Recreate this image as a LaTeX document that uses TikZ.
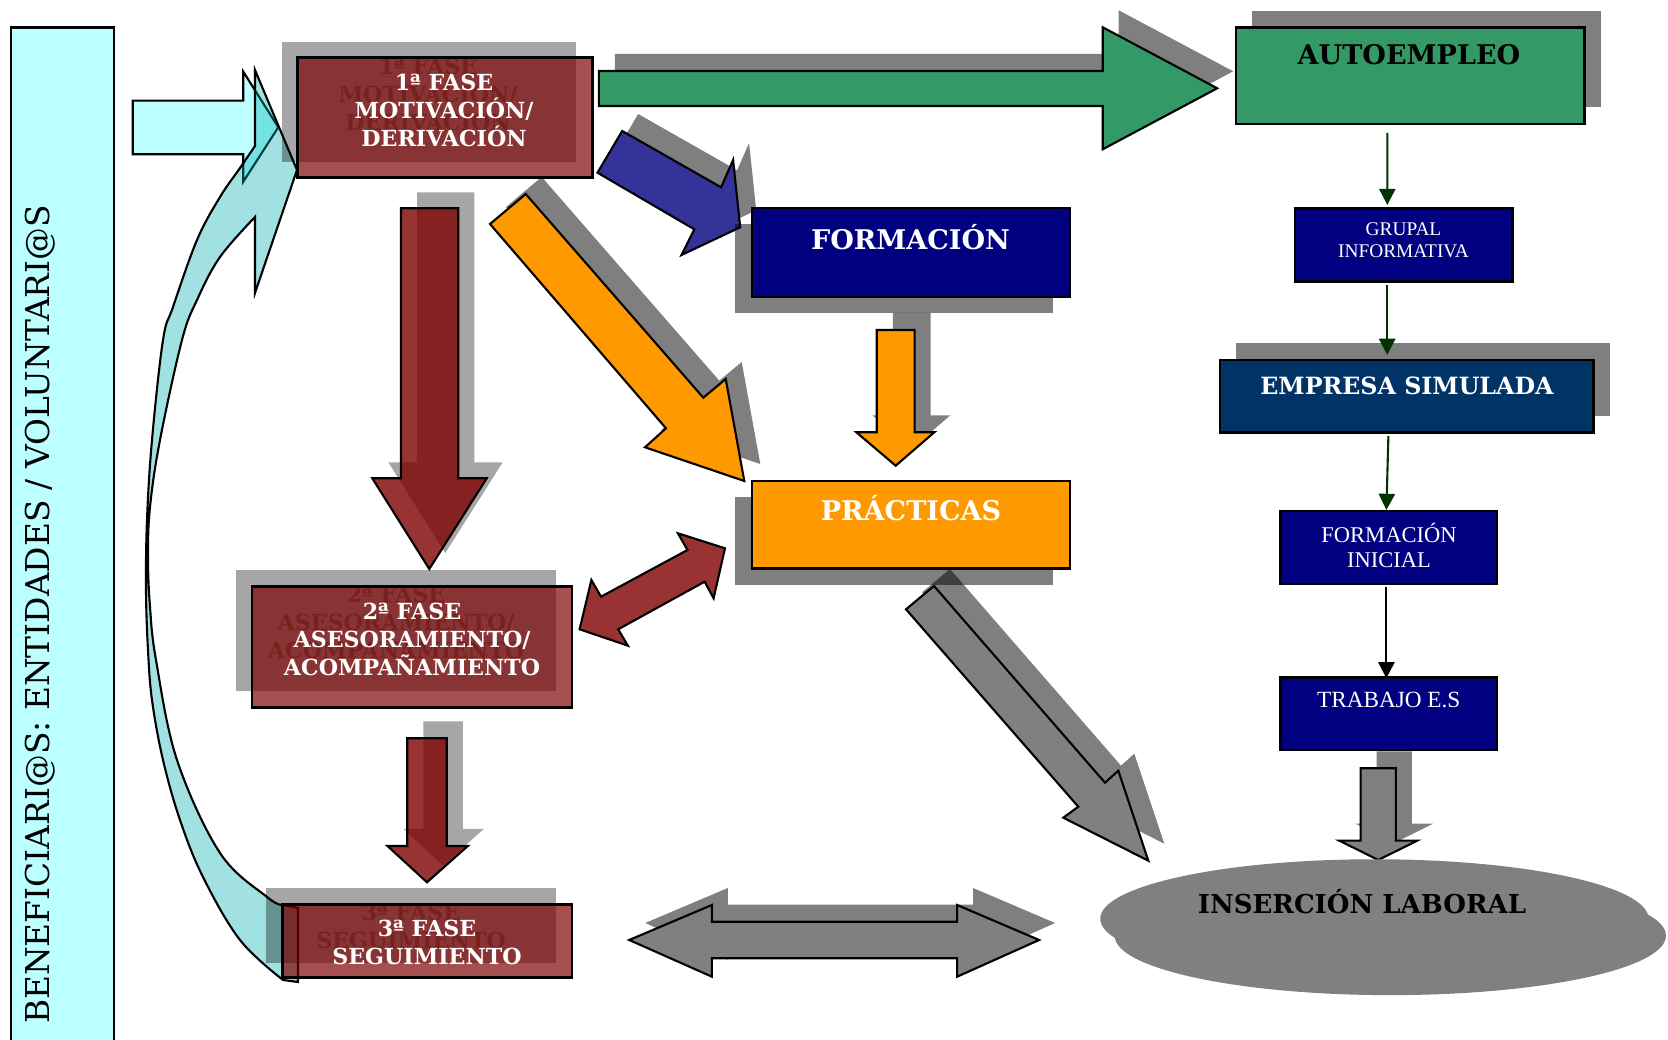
\documentclass[tikz,border=0pt]{standalone}
\usepackage{fontspec}
\newfontfamily\dvs{DejaVu Serif}
\newfontfamily\lbs{Liberation Serif}
\usetikzlibrary{arrows.meta,shapes.geometric}
\definecolor{cyanbox}{HTML}{BBFFFF}
\definecolor{curvc}{HTML}{00B0B0}
\definecolor{redc}{HTML}{7D0000}
\definecolor{greenc}{HTML}{339966}
\definecolor{bluec}{HTML}{333399}
\definecolor{navyc}{HTML}{000080}
\definecolor{empc}{HTML}{003366}
\definecolor{orangec}{HTML}{FF9900}
\definecolor{grayc}{HTML}{808080}
\definecolor{dred}{HTML}{993333}
\definecolor{dgreen}{HTML}{003300}
\newcommand\fsz[2]{\fontsize{#1}{#2}\selectfont}
\newcommand\BlkArr[3]{\fill[#2] #3; \filldraw[#1] #3;}
\tikzset{
  blk/.style={draw=black, line width=0.6pt, line join=miter},
  shd/.style={fill=black, fill opacity=0.5, draw=none},
  shdr/.style={fill=black, fill opacity=0.35, draw=none},
  bx/.style={draw=black, line width=0.7pt, inner sep=0pt, outer sep=0pt},
  sbx/.style={inner sep=0pt, outer sep=0pt},
  redbox/.style={bx, fill=redc, fill opacity=0.685},
  rlbl/.style={inner sep=0pt, align=center, text=white, font=\dvs\bfseries\fsz{6.3pt}{7.97pt}},
  rslbl/.style={inner sep=0pt, align=center, text=black, text opacity=0.35, font=\dvs\bfseries\fsz{6.3pt}{7.97pt}},
  blbl/.style={inner sep=0pt, align=center, font=\dvs\bfseries\fsz{7.7pt}{9pt}},
  slbl/.style 2 args={inner sep=0pt, align=center, text=white, font=\lbs\fsz{#1}{#2}},
  tarr/.style={draw=#1, line width=0.6pt, -{Triangle[length=4.6pt,width=4.6pt]}},
}
\begin{document}
\begin{tikzpicture}[x=0.01cm, y=-0.01cm]
\clip (0,0) rectangle (1668,1040);
\fill[white] (0,0) rectangle (1668,1040);

% left vertical box
\node[bx, fill=cyanbox, minimum width=1.03cm, minimum height=10.32cm] (benef) at (62.5,544) {};
\node[rotate=90, inner sep=0pt, font=\dvs\fsz{9.34pt}{12pt}] (benefT) at (40,614.5) {BENEFICIARI@S: ENTIDADES / VOLUNTARI@S};

% straight cyan arrow
\filldraw[blk, fill=cyanbox] (132.7,100.7) -- (243.3,100.7) -- (243.3,71.7) -- (278.3,127.3) -- (243.3,181.7) -- (243.3,154.3) -- (132.7,154.3) -- cycle;

% curved return arrow
\filldraw[blk, fill=curvc, fill opacity=0.37] (298,982) -- plot[smooth, tension=0.6] coordinates {(283,980) (240,940) (203,877) (180,820) (163,760) (152,700) (148,650) (146,590) (147,520) (152,440) (163,340) (173,307) (197,240) (220,197) (240,168) (255,146)} -- (255,70) -- (297,170) -- (255,293) -- (255,217) -- plot[smooth, tension=0.6] coordinates {(255,217) (220,257) (197,300) (182,340) (160,440) (150,507) (148,557) (150,607) (156,660) (177,760) (220,853) (267,897) (282,905)} -- (298,908) -- cycle;

% red phase boxes: shadows
\node[sbx, shdr, minimum width=2.946cm, minimum height=1.2cm] (f1s) at (429,101.7) {};
\node[rslbl] (f1st) at (428,94) {1ª FASE\\MOTIVACIÓN/\\DERIVACIÓN};
\node[sbx, shdr, minimum width=3.195cm, minimum height=1.21cm] (f2s) at (396,630.5) {};
\node[rslbl] (f2st) at (396,622.5) {2ª FASE\\ASESORAMIENTO/\\ACOMPAÑAMIENTO};
\node[sbx, shdr, minimum width=2.90cm, minimum height=0.75cm] (f3s) at (411.3,925.5) {};
\node[rslbl] (f3st) at (411,926) {3ª FASE\\SEGUIMIENTO};

% red phase boxes
\node[redbox, minimum width=2.946cm, minimum height=1.2cm] (f1) at (445,117.7) {};
\node[rlbl] (f1t) at (444,110) {1ª FASE\\MOTIVACIÓN/\\DERIVACIÓN};
\node[redbox, minimum width=3.195cm, minimum height=1.21cm] (f2) at (412,647.2) {};
\node[rlbl] (f2t) at (412,639) {2ª FASE\\ASESORAMIENTO/\\ACOMPAÑAMIENTO};
\node[redbox, minimum width=2.89cm, minimum height=0.734cm] (f3) at (427.2,941) {};
\node[rlbl] (f3t) at (427,942.5) {3ª FASE\\SEGUIMIENTO};

% red down arrows
\BlkArr{blk, fill=redc, fill opacity=0.8}{shdr, shift={(16,-16)}}{(401,208.3) -- (458.3,208.3) -- (458.3,478.3) -- (486.7,478.3) -- (429.3,569) -- (372.3,478.3) -- (401,478.3) -- cycle}
\BlkArr{blk, fill=redc, fill opacity=0.8}{shdr, shift={(16,-17)}}{(407.3,738.3) -- (446.8,738.3) -- (446.8,846) -- (467.8,846) -- (427,882.3) -- (387.5,846) -- (407.3,846) -- cycle}

% green arrow to AUTOEMPLEO
\BlkArr{blk, fill=greenc}{shd, shift={(16,-17)}}{(598.9,71) -- (1102.7,71) -- (1102.7,27.3) -- (1217.2,88.3) -- (1102.7,149.3) -- (1102.7,106) -- (598.9,106) -- cycle}

% AUTOEMPLEO
\node[sbx, shd, minimum width=3.484cm, minimum height=0.963cm] (autos) at (1426.4,58.8) {};
\node[bx, fill=greenc, minimum width=3.484cm, minimum height=0.963cm] (auto) at (1410.4,75.8) {};
\node[blbl, text=black] (autot) at (1409,55) {AUTOEMPLEO};

% blue arrow to FORMACION
\BlkArr{blk, fill=bluec}{shd, shift={(16,-17)}}{(622.2,131) -- (721.1,187.3) -- (733.1,160) -- (740.2,227.3) -- (681.5,255) -- (694.3,229.3) -- (597.5,172.7) -- cycle}

% FORMACION
\node[sbx, shd, minimum width=3.18cm, minimum height=0.89cm] (forms) at (894,268.5) {};
\node[bx, fill=navyc, minimum width=3.18cm, minimum height=0.89cm] (form) at (911,252.5) {};
\node[blbl, text=white] (formt) at (910.5,236.7) {FORMACIÓN};

% orange diagonal arrow
\BlkArr{blk, fill=orangec}{shd, shift={(16,-17)}}{(525.7,194) -- (703.3,397.7) -- (725.7,379) -- (744.3,481) -- (645,447.3) -- (666,428.3) -- (490,224) -- cycle}
% orange small down arrow
\BlkArr{blk, fill=orangec}{shd, shift={(16,-17)}}{(876.8,330) -- (914.6,330) -- (914.6,432.3) -- (934.3,432.3) -- (895.7,465.7) -- (856.4,432.3) -- (876.8,432.3) -- cycle}

% gray diagonal arrow (under practicas)
\BlkArr{blk, fill=grayc}{shd, shift={(16,-17)}}{(934,586) -- (1105,782.7) -- (1118.3,770.7) -- (1148.3,860.7) -- (1063.3,817.7) -- (1078.3,806.7) -- (906,609.3) -- cycle}

% PRACTICAS
\node[sbx, shd, minimum width=3.18cm, minimum height=0.873cm] (pracs) at (894,541) {};
\node[bx, fill=orangec, minimum width=3.18cm, minimum height=0.873cm] (prac) at (911,524.7) {};
\node[blbl, text=white] (pract) at (911,508.3) {PRÁCTICAS};

% red double arrow
\filldraw[blk, fill=dred] (725,548.3) -- (677.9,533.3) -- (687.5,550) -- (601,596.7) -- (591.4,580) -- (579.6,629.3) -- (627.9,645.7) -- (618.2,629.3) -- (704.6,581.7) -- (713.6,598.3) -- cycle;

% gray double arrow
\BlkArr{blk, fill=grayc}{shd, shift={(16,-17)}}{(629.2,940) -- (711.9,905) -- (711.9,921.7) -- (957.1,921.7) -- (957.1,905) -- (1039.1,940) -- (957.1,976.7) -- (957.1,958.3) -- (711.9,958.3) -- (711.9,976.7) -- cycle}

% right column
\node[sbx, shd, minimum width=3.737cm, minimum height=0.727cm] (emps) at (1422.7,379.3) {};
\node[bx, fill=empc, minimum width=3.737cm, minimum height=0.727cm] (emp) at (1406.7,396.3) {};
\node[inner sep=0pt, text=white, font=\dvs\bfseries\fsz{6.75pt}{8pt}] (empt) at (1407,386) {EMPRESA SIMULADA};

\node[bx, fill=navyc, minimum width=2.173cm, minimum height=0.734cm] (grup) at (1403.7,245) {};
\node[slbl={5.5pt}{6.45pt}] (grupt) at (1403.5,240.3) {GRUPAL\\INFORMATIVA};
\node[bx, fill=navyc, minimum width=2.163cm, minimum height=0.73cm] (fini) at (1388.9,547.5) {};
\node[slbl={6.4pt}{7.1pt}] (finit) at (1389,545.8) {FORMACIÓN\\INICIAL};
\node[bx, fill=navyc, minimum width=2.163cm, minimum height=0.723cm] (trab) at (1388.9,713.9) {};
\node[slbl={6.6pt}{7.5pt}] (trabt) at (1388.8,700) {TRABAJO E.S};

\draw[tarr=dgreen] ([shift={(-23,9)}]auto.south) -- ([shift={(-16.4,-3.3)}]grup.north);
\draw[tarr=dgreen] ([shift={(-16.5,3.3)}]grup.south) -- ([shift={(-19.5,-5)}]emp.north);
\draw[tarr=dgreen] ([shift={(-18.3,3.3)}]emp.south) -- ([shift={(-2.5,-1)}]fini.north);
\draw[tarr=black] ([shift={(-2.5,3.3)}]fini.south) -- ([shift={(-2.5,0.6)}]trab.north);

% gray arrow to insercion
\BlkArr{blk, fill=grayc}{shd, shift={(16,-17)}}{(1360.6,768.3) -- (1395.9,768.3) -- (1395.9,840.7) -- (1417.1,840.7) -- (1378.3,860) -- (1339.4,840.7) -- (1360.6,840.7) -- cycle}

% INSERCION LABORAL
\node[ellipse, fill=grayc, inner sep=0pt, minimum width=5.51cm, minimum height=1.188cm] (inss) at (1390.3,935.7) {};
\node[ellipse, fill=grayc, inner sep=0pt, minimum width=5.48cm, minimum height=1.188cm] (ins) at (1374.4,918.7) {};
\node[blbl, text=black, font=\dvs\bfseries\fsz{7.4pt}{9pt}] (inst) at (1362,902) {INSERCIÓN LABORAL};
\end{tikzpicture}
\end{document}
